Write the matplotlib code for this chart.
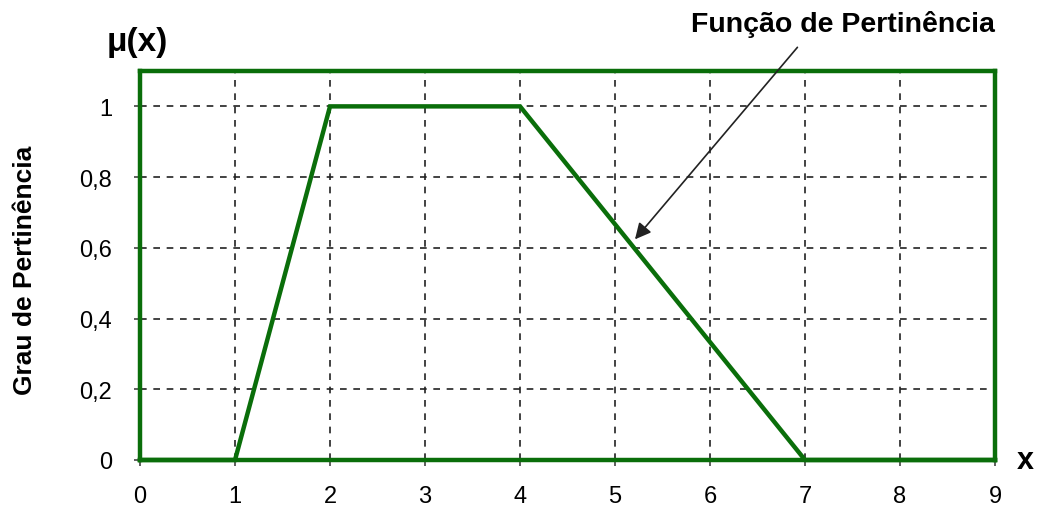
import matplotlib.pyplot as plt

plt.rcParams["font.family"] = ["Liberation Sans", "DejaVu Sans"]

GREEN = "#0a6e0a"

x_pts = [0, 1, 2, 4, 7, 9]
mu_pts = [0, 0, 1, 1, 0, 0]
x_ticks = [0, 1, 2, 3, 4, 5, 6, 7, 8, 9]
y_ticks = [0, 0.2, 0.4, 0.6, 0.8, 1]
y_labels = ["0", "0,2", "0,4", "0,6", "0,8", "1"]

fig = plt.figure(figsize=(10.38, 5.10), dpi=100)
ax = fig.add_axes([0.1349, 0.0961, 0.8237, 0.7627])

ax.set_xlim(0, 9)
ax.set_ylim(0, 1.1)

# dashed grid
for xv in x_ticks[1:-1]:
    ax.axvline(xv, color="#222222", ls=(0, (4, 4)), lw=1.2, zorder=1)
for yv in y_ticks[1:]:
    ax.axhline(yv, color="#222222", ls=(0, (4, 4)), lw=1.2, zorder=1)

ax.plot(x_pts, mu_pts, color=GREEN, lw=3.2, zorder=3, clip_on=False,
        solid_joinstyle="miter")

for s in ax.spines.values():
    s.set_color(GREEN)
    s.set_linewidth(3.2)

ax.set_xticks(x_ticks)
ax.set_yticks(y_ticks)
ax.set_yticklabels(y_labels)
ax.tick_params(direction="inout", length=8, width=1.2, color="#444444",
               labelsize=17)
ax.tick_params(axis="x", pad=14)
ax.tick_params(axis="y", pad=16)

ax.set_ylabel("Grau de Pertinência", fontsize=19, fontweight="bold")
ax.yaxis.set_label_coords(-0.12, 0.49)
ax.text(-0.35, 1.14, "μ(x)", fontsize=24, fontweight="bold",
        ha="left", va="bottom", clip_on=False)
ax.text(9.23, 0, "x", fontsize=22, fontweight="bold", ha="left", va="center",
        clip_on=False)

ax.text(7.4, 1.235, "Função de Pertinência", fontsize=20.5, fontweight="bold",
        ha="center", va="center", clip_on=False)
ax.annotate("", xy=(5.21, 0.624), xytext=(6.92, 1.167),
            annotation_clip=False,
            arrowprops=dict(arrowstyle="-|>", color="#222222", lw=1.2,
                            mutation_scale=24, shrinkA=0, shrinkB=0))

fig.savefig("out.png", dpi=100)
